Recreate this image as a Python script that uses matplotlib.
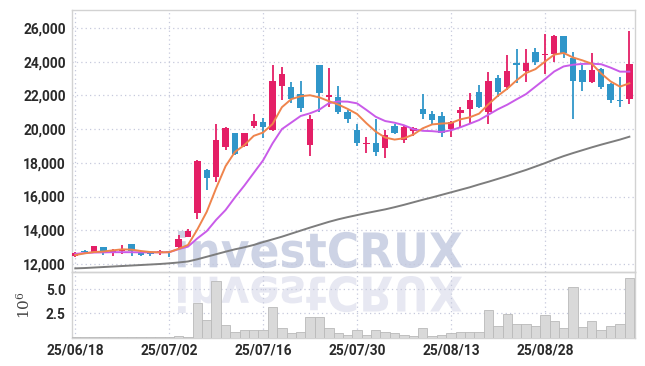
import numpy as np
import pandas as pd
import matplotlib
matplotlib.use("Agg")
import matplotlib.pyplot as plt
from matplotlib.textpath import TextPath
from matplotlib.patches import PathPatch
from matplotlib.font_manager import FontProperties
from matplotlib.transforms import Affine2D
from matplotlib.ticker import FuncFormatter

# trading days (KRX, 2025-08-15 closed)
dates = pd.bdate_range("2025-06-18", periods=60, freq="C", holidays=["2025-08-15"])
tick_idx = [0, 10, 20, 30, 40, 50]
tick_labels = [dates[i].strftime("%y/%m/%d") for i in tick_idx]

opens = [12500, 12770, 12730, 13000, 12700, 12800, 13200, 12700, 12720, 12700,
         12750, 13000, 13620, 15050, 17580, 17180, 18960, 19750, 19000, 20200,
         20420, 19950, 22580, 22500, 22080, 19080, 23800, 21930, 21900, 21020,
         19950, 19120, 19160, 18900, 20190, 19360, 19900, 21190, 20900, 20780,
         20030, 20960, 21190, 22220, 21030, 23030, 22520, 23950, 23470, 24580,
         24390, 24440, 25520, 24220, 23510, 22820, 23550, 22680, 21730, 21800]
highs = [12700, 12830, 13080, 13000, 12900, 13100, 13200, 12750, 12750, 12850,
         12800, 13700, 14050, 18150, 17650, 20300, 20100, 19750, 19800, 20900,
         20650, 23800, 23700, 22770, 22850, 20830, 23830, 23600, 22550, 21130,
         20300, 19520, 20580, 19950, 20300, 20230, 20100, 22070, 21080, 21020,
         20500, 21330, 22170, 22620, 23370, 23210, 24400, 24740, 24740, 24800,
         25640, 25560, 25520, 24600, 23800, 24500, 23650, 22750, 23120, 25830]
lows = [12400, 12650, 12700, 12550, 12500, 12600, 12500, 12450, 12500, 12550,
        12400, 12950, 13600, 14650, 16400, 16850, 18750, 18450, 18950, 20050,
        19450, 19900, 21750, 21530, 21030, 18400, 21000, 21300, 20880, 20350,
        19000, 18600, 18400, 18300, 19700, 19170, 19600, 20580, 20260, 19550,
        19520, 20150, 20390, 21250, 20300, 21930, 22320, 22720, 22800, 23800,
        23270, 24000, 24200, 20580, 22260, 22720, 22360, 21530, 21300, 21490]
closes = [12650, 12720, 13050, 12700, 12800, 12880, 12750, 12550, 12600, 12760,
          12700, 13500, 13950, 18100, 17120, 19350, 20050, 18500, 19750, 20480,
          20130, 22850, 23250, 21800, 21270, 20600, 22160, 22030, 21020, 20600,
          19150, 19180, 18650, 19650, 19790, 20100, 20050, 20910, 20540, 19750,
          20420, 21130, 21700, 21300, 22860, 22200, 23450, 23830, 23950, 24000,
          24460, 25520, 24500, 22840, 22820, 23510, 22520, 21730, 21680, 23890]

# moving averages as drawn
ma_short = [12530, 12630, 12710, 12740, 12810, 12870, 12850, 12770, 12710, 12690,
            12700, 12900, 13130, 14050, 15100, 16500, 17800, 18650, 19050, 19600,
            19800, 20300, 21300, 21780, 21950, 22010, 21880, 21660, 21460, 21200,
            20900, 20350, 19850, 19500, 19380, 19460, 19680, 20050, 20280, 20330,
            20360, 20580, 20700, 20920, 21480, 21980, 22400, 22900, 23330, 23560,
            24000, 24420, 24520, 24250, 24080, 23880, 23300, 22830, 22520, 22720]
ma_mid = [12600, 12650, 12680, 12690, 12700, 12700, 12700, 12690, 12690, 12690,
          12700, 12880, 13030, 13520, 13950, 14620, 15200, 15950, 16650, 17400,
          18150, 19150, 20000, 20390, 20780, 20940, 21160, 21540, 21640, 21630,
          21530, 21140, 20730, 20480, 20380, 20230, 20000, 19900, 19880, 19830,
          19930, 20110, 20320, 20540, 20860, 21180, 21450, 21770, 22080, 22520,
          22960, 23420, 23720, 23820, 23870, 23880, 23850, 23650, 23410, 23410]
ma_long = [11740, 11760, 11790, 11820, 11850, 11880, 11910, 11940, 11970, 12000,
           12040, 12090, 12150, 12280, 12430, 12580, 12730, 12870, 12990, 13130,
           13300, 13460, 13620, 13800, 13980, 14160, 14330, 14500, 14650, 14780,
           14900, 15020, 15130, 15240, 15370, 15510, 15660, 15810, 15950, 16100,
           16250, 16400, 16550, 16720, 16880, 17050, 17220, 17400, 17580, 17780,
           17980, 18200, 18400, 18580, 18750, 18920, 19080, 19230, 19380, 19550]

# volume, millions
volume = [0.02, 0.03, 0.08, 0.03, 0.08, 0.08, 0.03, 0.02, 0.02, 0.02,
          0.02, 0.20, 0.10, 3.54, 1.80, 5.86, 1.28, 0.55, 0.73, 0.73,
          0.83, 3.12, 0.94, 0.42, 0.55, 2.15, 2.15, 0.94, 0.42, 0.31,
          0.83, 0.31, 0.73, 0.62, 0.45, 0.31, 0.20, 0.94, 0.20, 0.31,
          0.42, 0.55, 0.62, 0.55, 2.90, 1.17, 2.42, 1.45, 1.35, 1.17,
          2.30, 1.70, 0.94, 5.27, 1.04, 1.70, 0.83, 1.17, 1.38, 6.20]

UP = "#e41f66"
DOWN = "#3096c9"
GRID = "#c6c9dc"
SPINE = "#d2d2d2"
TICKFONT = dict(family=["Roboto", "DejaVu Sans"], weight="bold", size=9.9)
plt.rcParams["mathtext.fontset"] = "dejavuserif"

W, H = 645, 366
fig = plt.figure(figsize=(W / 100, H / 100), dpi=100)
fig.patch.set_facecolor("white")
left, right = 72, 635
ax = fig.add_axes([left / W, 1 - 272 / H, (right - left) / W, (272 - 10) / H])
axv = fig.add_axes([left / W, 1 - 337.5 / H, (right - left) / W, (337.5 - 272) / H], sharex=ax)

# watermark with reflection
prop = FontProperties(family="DejaVu Sans", weight="bold")
tp = TextPath((0, 0), "investCRUX", size=1, prop=prop)
bb = tp.get_extents()
sx = 284 / bb.width
sy = 37 / bb.height
wm = PathPatch(tp, facecolor="#cdd3e5", edgecolor="none", zorder=-1,
               transform=Affine2D().translate(-bb.x0, -bb.y0).scale(sx, sy).translate(178, H - 268))
wr = PathPatch(tp, facecolor="#e7e8f2", edgecolor="none", zorder=-1,
               transform=Affine2D().translate(-bb.x0, -bb.y0).scale(sx, -sy).translate(178, H - 276))
fig.add_artist(wm)
fig.add_artist(wr)

x = np.arange(len(closes))
o = np.array(opens)
c = np.array(closes)
colors = [UP if cc >= oo else DOWN for oo, cc in zip(o, c)]
body_lo = np.minimum(o, c)
body_h = np.maximum(np.abs(c - o), 45)

for a in (ax, axv):
    a.set_facecolor("none")
    a.grid(True, ls=(0, (1, 2.5)), color=GRID, lw=0.9)
    a.set_axisbelow(True)
    for s in a.spines.values():
        s.set_color(SPINE)
        s.set_linewidth(1.0)
    a.tick_params(length=0, labelcolor="#2a2a2a")

ax.vlines(x, lows, highs, colors=colors, lw=1.3, zorder=3)
ax.bar(x, body_h, bottom=body_lo, width=0.68, color=colors, zorder=4)
ax.plot(x, ma_long, color="#7d7d7d", lw=1.4, zorder=5)
ax.plot(x, ma_mid, color="#c95be9", lw=1.4, zorder=5)
ax.plot(x, ma_short, color="#ef844c", lw=1.4, zorder=5)

ax.set_xlim(-0.35, 59.6)
ax.set_ylim(11525, 27067)
ax.set_yticks(range(12000, 26001, 2000))
ax.yaxis.set_major_formatter(FuncFormatter(lambda v, p: f"{int(v):,}"))
ax.set_xticks(tick_idx)
ax.tick_params(labelbottom=False, pad=4.5)

axv.bar(x, np.array(volume) * 1e6, width=1.0, color="#d9d9d9", edgecolor="#b9b9b9", lw=0.6, zorder=3)
axv.set_ylim(0, 6.8e6)
axv.set_yticks([2.5e6, 5.0e6])
axv.set_yticklabels(["2.5", "5.0"])
axv.set_xticks(tick_idx)
axv.set_xticklabels(tick_labels)
axv.tick_params(pad=4.5)
axv.set_ylabel(r"$10^6$", color="#444444", fontsize=11)
axv.yaxis.set_label_coords(-0.07, 0.5)

for a in (ax, axv):
    for lab in a.get_yticklabels() + a.get_xticklabels():
        lab.set(**TICKFONT)

fig.savefig("out.png", dpi=100)
